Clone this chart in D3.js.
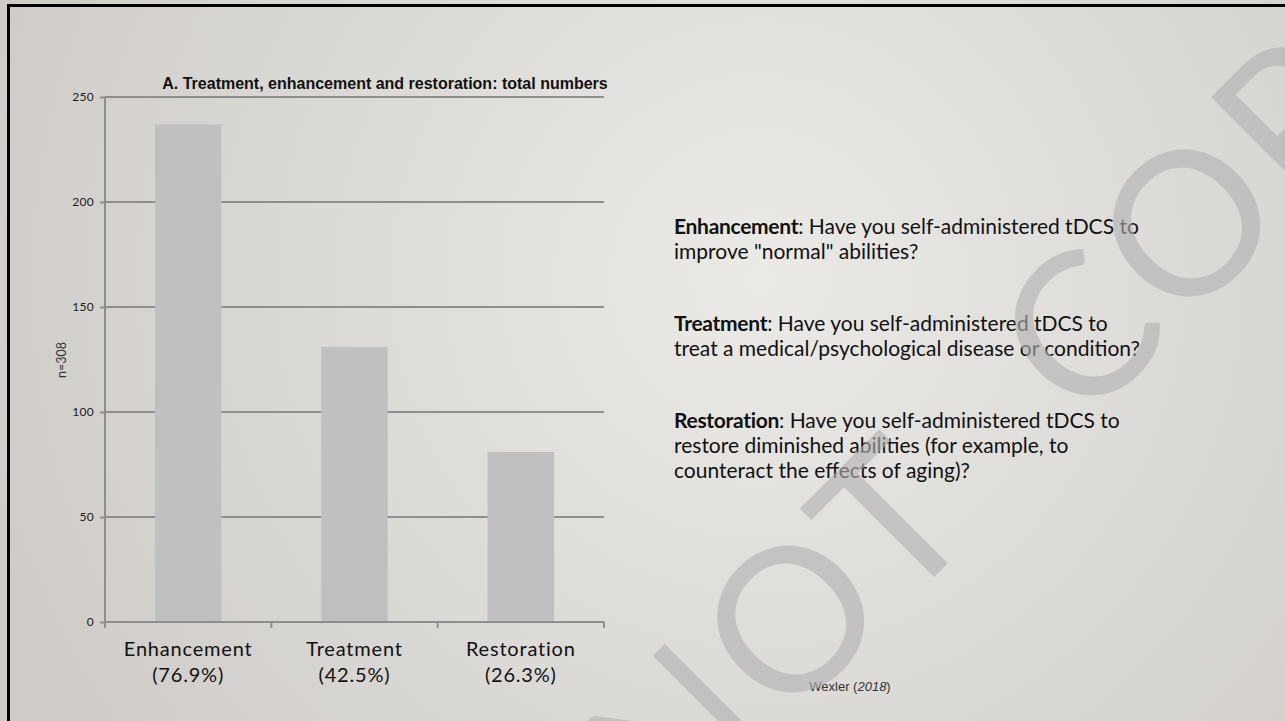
<!DOCTYPE html>
<html><head><meta charset="utf-8">
<script src="https://cdn.jsdelivr.net/npm/d3@7"></script>
<style>body{margin:0;overflow:hidden;background:#fff}</style>
</head><body><svg id="c" width="1285" height="721"></svg>
<script>
const categories = ["Enhancement", "Treatment", "Restoration"];
const percentLabels = ["(76.9%)", "(42.5%)", "(26.3%)"];
const counts = [237, 131, 81];
const yTicks = [0, 50, 100, 150, 200, 250];
const chartTitle = "A. Treatment, enhancement and restoration: total numbers";
const yAxisLabel = "n=308";
const definitionTerms = ["Enhancement", "Treatment", "Restoration"];
const definitionLines = [
  [": Have you self-administered tDCS to", "improve \"normal\" abilities?"],
  [": Have you self-administered tDCS to", "treat a medical/psychological disease or condition?"],
  [": Have you self-administered tDCS to", "restore diminished abilities (for example, to", "counteract the effects of aging)?"]
];
const sourceAuthor = "Wexler (";
const sourceYear = "2018";
const watermarkWords = ["NOT", "COPY"];

const svg = d3.select("#c");
const W = 1285, H = 721;

// background
const defs = svg.append("defs");
const rg = defs.append("radialGradient").attr("id", "bg")
  .attr("gradientUnits", "userSpaceOnUse")
  .attr("cx", 760).attr("cy", 280).attr("r", 820);
rg.append("stop").attr("offset", "0%").attr("stop-color", "#ebeae7");
rg.append("stop").attr("offset", "100%").attr("stop-color", "#cfccc8");
svg.append("rect").attr("width", W).attr("height", H).attr("fill", "url(#bg)");

// frame (top + left)
svg.append("line").attr("x1", 7).attr("x2", W).attr("y1", 5.5).attr("y2", 5.5)
  .attr("stroke", "#000").attr("stroke-width", 3);
svg.append("line").attr("x1", 8.5).attr("x2", 8.5).attr("y1", 4).attr("y2", H)
  .attr("stroke", "#000").attr("stroke-width", 3);

// scales
const x = d3.scaleBand().domain(categories).range([105, 604])
  .paddingInner(0.6).paddingOuter(0.3);
const y = d3.scaleLinear().domain([0, 250]).range([622, 97]);

const grid = "#8e8e8e";
// gridlines
svg.append("g").selectAll("line").data(yTicks.filter(d => d > 0)).join("line")
  .attr("x1", 105).attr("x2", 604)
  .attr("y1", d => y(d)).attr("y2", d => y(d))
  .attr("stroke", grid).attr("stroke-width", 2);

// bars
svg.append("g").selectAll("rect").data(counts).join("rect")
  .attr("x", (d, i) => x(categories[i]))
  .attr("width", x.bandwidth())
  .attr("y", d => y(d))
  .attr("height", d => y(0) - y(d))
  .attr("fill", "#c0c0c0");

// y axis
const yAxis = svg.append("g").attr("transform", "translate(105,0)")
  .call(d3.axisLeft(y).tickValues(yTicks).tickSize(5).tickPadding(6));
yAxis.select(".domain").attr("stroke", grid).attr("stroke-width", 2)
  .attr("d", `M0,${y(250)}V${y(0) + 5}`);
yAxis.selectAll(".tick line").attr("stroke", grid).attr("stroke-width", 2);
yAxis.selectAll(".tick text").attr("font-family", "Lato, sans-serif")
  .attr("font-size", 12).attr("letter-spacing", 0.3).attr("fill", "#1a1a1a");

// x axis
const xBoundaries = [105, ...categories.map(c => x(c) + x.bandwidth() / 2 + x.step() / 2)];
svg.append("line").attr("x1", 105).attr("x2", 604).attr("y1", y(0)).attr("y2", y(0))
  .attr("stroke", grid).attr("stroke-width", 2);
svg.append("g").selectAll("line").data(xBoundaries).join("line")
  .attr("x1", d => d).attr("x2", d => d).attr("y1", y(0)).attr("y2", y(0) + 6)
  .attr("stroke", grid).attr("stroke-width", 2);

const xl = svg.append("g").selectAll("text").data(categories).join("text")
  .attr("x", d => x(d) + x.bandwidth() / 2)
  .attr("text-anchor", "middle")
  .attr("font-family", "Lato, sans-serif").attr("font-size", 20)
  .attr("letter-spacing", 0.8).attr("fill", "#111");
xl.append("tspan").attr("x", d => x(d) + x.bandwidth() / 2).attr("y", 656).text(d => d);
xl.append("tspan").attr("x", d => x(d) + x.bandwidth() / 2).attr("y", 682)
  .text((d, i) => percentLabels[i]);

// title
svg.append("text").attr("x", 385).attr("y", 89).attr("text-anchor", "middle")
  .attr("font-family", "'Liberation Sans', Arial, sans-serif").attr("font-weight", "bold")
  .attr("font-size", 16).attr("fill", "#111").text(chartTitle);

// y label
svg.append("text").attr("transform", "translate(66,360) rotate(-90)")
  .attr("text-anchor", "middle").attr("font-family", "Lato, sans-serif")
  .attr("font-size", 12.5).attr("fill", "#333").text(yAxisLabel);

// definitions
const blockY = [234, 331, 428];
const lh = 25;
definitionTerms.forEach((term, i) => {
  const t = svg.append("text").attr("font-family", "Lato, sans-serif")
    .attr("font-size", 21).attr("fill", "#111");
  definitionLines[i].forEach((ln, j) => {
    if (j === 0) {
      const ts = t.append("tspan").attr("x", 674).attr("y", blockY[i]);
      ts.append("tspan").attr("font-weight", "bold").attr("letter-spacing", -0.3).text(term);
      t.append("tspan").text(ln);
    } else {
      t.append("tspan").attr("x", 674).attr("y", blockY[i] + j * lh).text(ln);
    }
  });
});

// source
const src = svg.append("text").attr("x", 850).attr("y", 691).attr("text-anchor", "middle")
  .attr("font-family", "'Liberation Sans', Arial, sans-serif").attr("font-size", 13)
  .attr("fill", "#333");
src.append("tspan").text(sourceAuthor);
src.append("tspan").attr("font-style", "italic").text(sourceYear);
src.append("tspan").text(")");

// watermark
const wm = svg.append("text").attr("transform", "translate(671,840) rotate(-45)")
  .attr("font-family", "Lato, sans-serif").attr("font-size", 200)
  .attr("fill", "#b2b2b2").attr("fill-opacity", 0.62)
  .attr("letter-spacing", 8);
wm.append("tspan").text(watermarkWords[0]);
wm.append("tspan").attr("dx", 140).text(watermarkWords[1]);
</script></body></html>
